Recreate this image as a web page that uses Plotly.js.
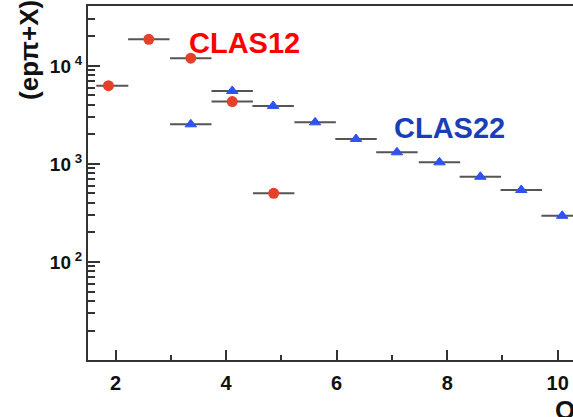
<!DOCTYPE html>
<html>
<head>
<meta charset="utf-8">
<script src="https://cdn.plot.ly/plotly-3.0.1.min.js"></script>
<style>
html, body { margin: 0; padding: 0; overflow: hidden; background: #fff; }
#chart { width: 630px; height: 417px; }
</style>
</head>
<body>
<div id="chart"></div>
<script>
// Data
const clas12Q = [1.87, 2.60, 3.36, 4.11, 4.86];
const clas12N = [6300, 18700, 12000, 4330, 502];
const clas12ErrPlus = [0.36, 0.375, 0.375, 0.375, 0.375];
const clas12ErrMinus = [0.22, 0.375, 0.375, 0.375, 0.375];

const clas22Q = [3.36, 4.11, 4.85, 5.61, 6.35, 7.09, 7.86, 8.60, 9.34, 10.08];
const clas22N = [2540, 5560, 3910, 2660, 1800, 1316, 1040, 741, 543, 296];
const clas22Err = [0.375, 0.375, 0.375, 0.375, 0.375, 0.375, 0.375, 0.375, 0.375, 0.375];

const yTickVals = [100, 1000, 10000];
const yTickText = ['10\u2009<sup>2</sup>', '10\u2009<sup>3</sup>', '10\u2009<sup>4</sup>'];
const yMinorVals = [20,30,40,50,60,70,80,90,200,300,400,500,600,700,800,900,2000,3000,4000,5000,6000,7000,8000,9000,20000,30000,40000];
const xTickVals = [2, 4, 6, 8, 10];
const xMinorVals = [3, 5, 7, 9];

const axisColor = '#333333';
const font = {family: 'Liberation Sans, Arial, sans-serif', color: '#111'};
const xRange = [1.5, 11];
const yRange = [1.0, 4.612];

const traces = [
  {
    x: clas22Q, y: clas22N, type: 'scatter', mode: 'markers', name: 'CLAS22',
    marker: {symbol: 'triangle-up', size: 10, color: '#2f52f0', line: {width: 1, color: '#2f52f0'}},
    error_x: {type: 'data', array: clas22Err, color: '#555555', thickness: 2, width: 0}
  },
  {
    x: clas12Q, y: clas12N, type: 'scatter', mode: 'markers', name: 'CLAS12',
    marker: {symbol: 'circle', size: 11, color: '#e5402a'},
    error_x: {type: 'data', symmetric: false, array: clas12ErrPlus, arrayminus: clas12ErrMinus, color: '#555555', thickness: 2, width: 0}
  },
  // empty helper traces so the minor-tick overlay axes get drawn
  {x: [], y: [], type: 'scatter', mode: 'markers', xaxis: 'x2', yaxis: 'y', hoverinfo: 'skip', showlegend: false},
  {x: [], y: [], type: 'scatter', mode: 'markers', xaxis: 'x', yaxis: 'y2', hoverinfo: 'skip', showlegend: false}
];

const layout = {
  width: 630, height: 417,
  margin: {l: 88, r: 17, t: 6, b: 57},
  paper_bgcolor: '#fff', plot_bgcolor: '#fff',
  showlegend: false,
  font: font,
  xaxis: {
    range: xRange, showgrid: false, zeroline: false,
    showline: true, linecolor: axisColor, linewidth: 2, mirror: true,
    ticks: 'inside', ticklen: 10, tickwidth: 2, tickcolor: axisColor,
    tickmode: 'array', tickvals: xTickVals,
    tickfont: {family: font.family, size: 20, weight: 'bold', color: '#111'},
    ticklabelstandoff: 4
  },
  yaxis: {
    type: 'log', range: yRange, showgrid: false, zeroline: false,
    showline: true, linecolor: axisColor, linewidth: 2, mirror: true,
    ticks: 'inside', ticklen: 12, tickwidth: 2, tickcolor: axisColor,
    tickmode: 'array', tickvals: yTickVals, ticktext: yTickText,
    tickfont: {family: font.family, size: 19, weight: 'bold', color: '#111'}
  },
  xaxis2: {
    overlaying: 'x', anchor: 'y', side: 'bottom', range: xRange,
    showgrid: false, zeroline: false,
    ticks: 'inside', ticklen: 5, tickwidth: 2, tickcolor: axisColor,
    tickmode: 'array', tickvals: xMinorVals, showticklabels: false
  },
  yaxis2: {
    overlaying: 'y', anchor: 'x', side: 'left', type: 'log', range: yRange,
    showgrid: false, zeroline: false,
    ticks: 'inside', ticklen: 7, tickwidth: 2, tickcolor: axisColor,
    tickmode: 'array', tickvals: yMinorVals, showticklabels: false
  },
  annotations: [
    {text: '<b>CLAS12</b>', xref: 'x', yref: 'y', x: 3.29, y: 4.235, xanchor: 'left', yanchor: 'middle', showarrow: false,
     font: {family: font.family, size: 29, color: '#ff0000'}},
    {text: '<b>CLAS22</b>', xref: 'x', yref: 'y', x: 7.0, y: 3.367, xanchor: 'left', yanchor: 'middle', showarrow: false,
     font: {family: font.family, size: 29, color: '#1a3db8'}},
    {text: '<b>(epπ+X)</b>', xref: 'paper', yref: 'paper', x: 0, y: 0.876, xshift: -59, xanchor: 'center', yanchor: 'middle',
     textangle: -90, showarrow: false, font: {family: font.family, size: 26, color: '#111'}},
    {text: '<b>Q</b>', xref: 'x', yref: 'paper', x: 10.13, y: 0, yshift: -50, xanchor: 'center', yanchor: 'middle', showarrow: false,
     font: {family: font.family, size: 26, color: '#111'}}
  ]
};

Plotly.newPlot('chart', traces, layout, {staticPlot: true, displayModeBar: false});
</script>
</body>
</html>
